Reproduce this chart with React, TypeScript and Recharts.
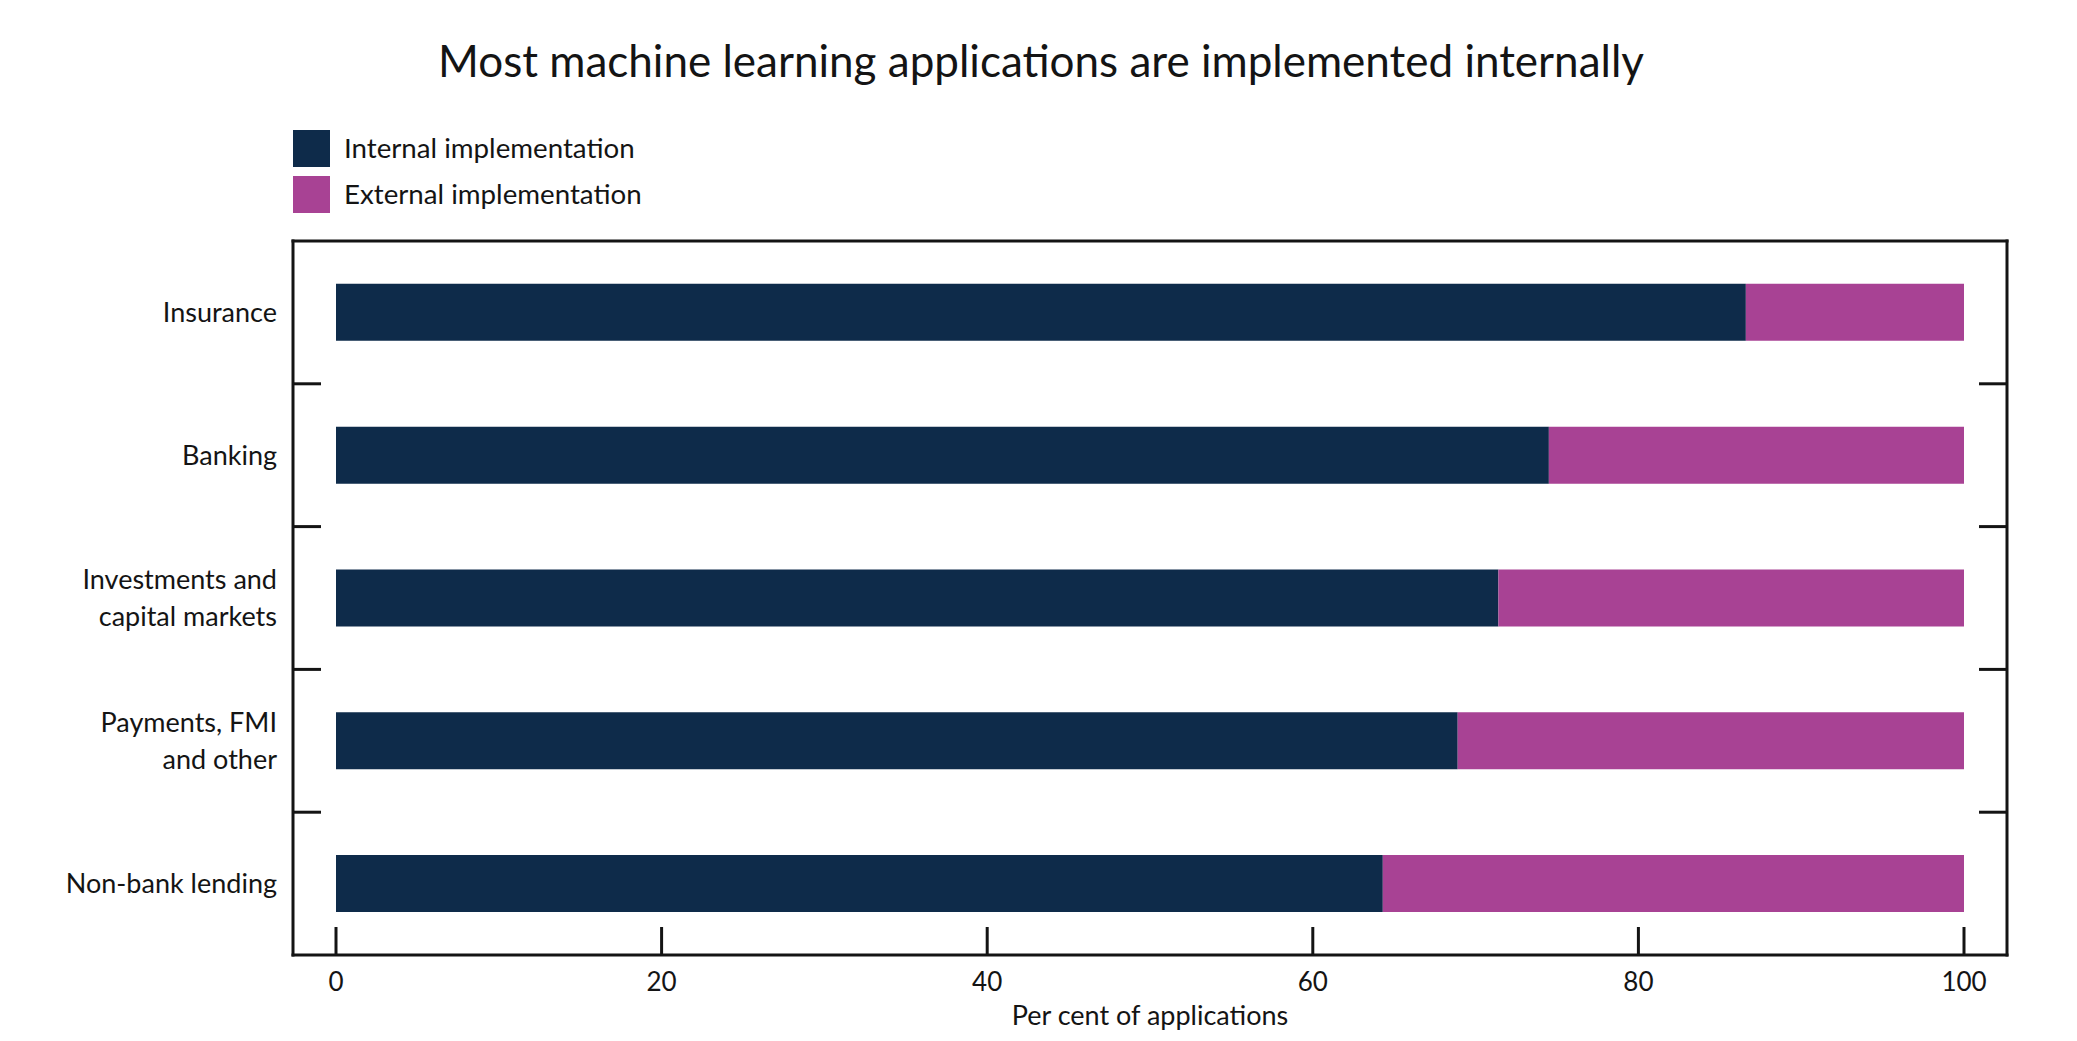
import React from 'react';
import { BarChart, Bar, XAxis, YAxis } from 'recharts';

const categories = [
  'Insurance',
  'Banking',
  'Investments and\ncapital markets',
  'Payments, FMI\nand other',
  'Non-bank lending',
];
const internalValues = [86.6, 74.5, 71.4, 68.9, 64.3];
const externalValues = [13.4, 25.5, 28.6, 31.1, 35.7];
const xTicks = [0, 20, 40, 60, 80, 100];
const seriesNames = ['Internal implementation', 'External implementation'];
const seriesColors = ['#0E2B4A', '#A84294'];
const titleText = 'Most machine learning applications are implemented internally';
const xAxisTitle = 'Per cent of applications';

const data = categories.map((name, i) => ({
  name,
  internal: internalValues[i],
  external: externalValues[i],
}));

const FONT = "Lato, 'Open Sans', sans-serif";
const INK = '#141414';
const FRAME = { stroke: INK, strokeWidth: 3, strokeLinecap: 'square' as const };
const TICKLINE = { stroke: INK, strokeWidth: 3 };
const TICK_LEN = 28;

// Draws a short inward tick at the lower edge of each category band (band boundaries).
const BoundaryTick = (props: any) => {
  const { x, y, payload, index, dir } = props;
  const half = payload && typeof payload.offset === 'number' ? payload.offset : 0;
  if (index >= categories.length - 1 || !half) return <g />;
  const yy = y + half;
  return <line x1={x} y1={yy} x2={x + dir * TICK_LEN} y2={yy} stroke={INK} strokeWidth={3} />;
};

const CategoryTick = (props: any) => {
  const { x, y, payload } = props;
  const lines = String(payload.value).split('\n');
  const lineH = 37;
  const capHalf = 9.7;
  return (
    <text x={x} y={y} textAnchor="end" fontFamily={FONT} fontSize={27} fill={INK}>
      {lines.map((ln, i) => (
        <tspan key={i} x={x} y={y + capHalf + (i - (lines.length - 1) / 2) * lineH}>
          {ln}
        </tspan>
      ))}
    </text>
  );
};

export default function App() {
  return (
    <div style={{ position: 'relative', width: 2061, height: 1025 }}>
      <BarChart
        width={2061}
        height={1025}
        data={data}
        layout="vertical"
        margin={{ top: 233, right: 62, bottom: 0, left: 0 }}
        barCategoryGap="30%"
      >
        <XAxis
          xAxisId="x"
          type="number"
          domain={[0, 100]}
          allowDataOverflow
          ticks={xTicks}
          interval={0}
          padding={{ left: 43, right: 43 }}
          height={78}
          axisLine={FRAME}
          tickLine={TICKLINE}
          tickSize={-28}
          tickMargin={46}
          tick={{ fontSize: 26, fill: INK, fontFamily: FONT }}
          label={{
            value: xAxisTitle,
            position: 'insideBottom',
            offset: 8,
            fill: INK,
            fontSize: 27,
            fontFamily: FONT,
          }}
        />
        <XAxis
          xAxisId="top"
          type="number"
          orientation="top"
          mirror
          domain={[0, 100]}
          height={1}
          axisLine={FRAME}
          tick={false}
          tickLine={false}
        />
        <YAxis
          yAxisId="cat"
          type="category"
          dataKey="name"
          width={285}
          axisLine={FRAME}
          tickLine={false}
          tickSize={0}
          tickMargin={16}
          interval={0}
          tick={<CategoryTick />}
        />
        <YAxis
          yAxisId="gl"
          type="category"
          dataKey="name"
          orientation="left"
          mirror
          width={1}
          interval={0}
          axisLine={false}
          tickLine={false}
          tickSize={0}
          tickMargin={0}
          tick={<BoundaryTick dir={1} />}
        />
        <YAxis
          yAxisId="gr"
          type="category"
          dataKey="name"
          orientation="right"
          mirror
          width={1}
          interval={0}
          axisLine={FRAME}
          tickLine={false}
          tickSize={0}
          tickMargin={0}
          tick={<BoundaryTick dir={-1} />}
        />
        <Bar
          xAxisId="x"
          yAxisId="cat"
          dataKey="internal"
          name={seriesNames[0]}
          stackId="s"
          fill={seriesColors[0]}
          isAnimationActive={false}
        />
        <Bar
          xAxisId="x"
          yAxisId="cat"
          dataKey="external"
          name={seriesNames[1]}
          stackId="s"
          fill={seriesColors[1]}
          isAnimationActive={false}
        />
      </BarChart>
      <svg
        width={2061}
        height={230}
        style={{ position: 'absolute', left: 0, top: 0, pointerEvents: 'none' }}
      >
        <text x={1033} y={69} textAnchor="middle" fontFamily={FONT} fontSize={44} fill={INK}>
          {titleText}
        </text>
        {seriesNames.map((nm, i) => (
          <g key={nm}>
            <rect x={285} y={122 + i * 46} width={37} height={37} fill={seriesColors[i]} />
            <text x={336} y={150 + i * 46} fontFamily={FONT} fontSize={27.7} fill={INK}>
              {nm}
            </text>
          </g>
        ))}
      </svg>
    </div>
  );
}
